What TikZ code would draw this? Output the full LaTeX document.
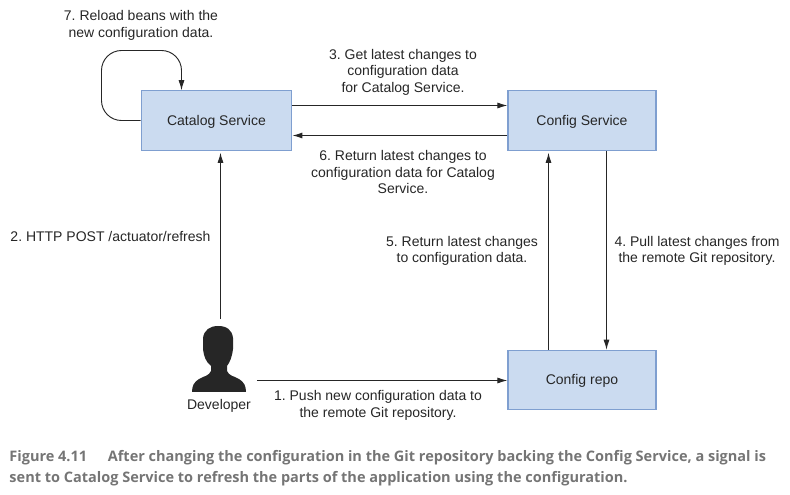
\documentclass[tikz,border=0pt]{standalone}
\usepackage{fontspec}
\setmainfont{Liberation Sans}
\newfontfamily\capfont{Open Sans}
\usetikzlibrary{arrows.meta}
\definecolor{boxfill}{HTML}{CBDBF0}
\definecolor{boxline}{HTML}{7F9FD0}
\definecolor{inkgrey}{HTML}{262626}
\definecolor{capgrey}{HTML}{757575}
\frenchspacing

\begin{document}
\begin{tikzpicture}[x = 0.75pt, y = -0.75pt, line width = 0.7pt,
                      box/.style = {rectangle, draw = boxline, fill = boxfill, line width = 0.9pt,
                                    minimum width = 111pt, minimum height = 44.5pt, text = inkgrey, text height = 7.2pt, text depth = 0pt,
                                    font = \fontsize{10.5}{12}\selectfont},
                      note/.style = {align = center, text = inkgrey, inner sep = 0pt, font = \fontsize{10.5}{12.3}\selectfont},
                      link/.style = {draw = inkgrey, -{Latex[length = 7.5pt, width = 4.5pt]}}]
    \useasboundingbox (0, 0) rectangle (790, 495);

    \node [box, minimum width = 113pt] (catalog) at (216.5, 120.5){Catalog Service};
    \node [box] (config) at (582, 120.5){Config Service};
    \node [box] (repo) at (582, 380){Config repo};
    \node [inner sep = 0pt, minimum width = 41pt, minimum height = 50pt] (dev) at (219, 359){};

    \fill [inkgrey] (192, 392) .. controls (192, 386) and (194, 382) .. (199, 379)
        .. controls (204, 376) and (209, 376) .. (211, 371) -- (211, 366)
        .. controls (206, 362) and (204, 357) .. (203, 349) -- (203, 338)
        .. controls (204, 330) and (210, 326) .. (218, 326)
        .. controls (227, 326) and (232, 330) .. (233, 338) -- (233, 349)
        .. controls (232, 357) and (230, 362) .. (227, 366) -- (227, 371)
        .. controls (229, 376) and (234, 376) .. (239, 379)
        .. controls (244, 382) and (246, 386) .. (246, 392) -- cycle;

    \coordinate (loopa) at (101.5, 120.5);
    \coordinate (loopb) at (101.5, 50.5);
    \coordinate (loopc) at (181.5, 50.5);

    \draw [link, rounded corners = 15pt] (catalog.west) -- (loopa) -- (loopb) -- (loopc) -- (catalog.north -| loopc);
    \draw [link] ([yshift = 11.25pt]catalog.east) -- ([yshift = 11.25pt]config.west);
    \draw [link] ([yshift = -11.25pt]config.west) -- ([yshift = -11.25pt]catalog.east);
    \draw [link] ([yshift = 4.5pt, xshift = 1.125pt]dev.north) -- ([yshift = -1.5pt, xshift = 1.125pt]catalog.south -| dev.north);
    \draw [link] ([xshift = 7.5pt, yshift = -16.125pt]dev.east) -- ([yshift = -0.375pt]repo.west);
    \draw [link] ([xshift = -25.125pt]repo.north) -- ([xshift = -25.125pt, yshift = -1.5pt]config.south);
    \draw [link] ([xshift = 18.375pt]config.south) -- ([xshift = 18.375pt]repo.north);

    \node [note] (step7) at (141, 25.5){7. Reload beans with the\\new configuration data.};
    \node [note] (step3) at (403, 72){3. Get latest changes to\\configuration data\\for Catalog Service.};
    \node [note] (step6) at (403, 172){6. Return latest changes to\\configuration data for Catalog\\Service.};
    \node [note, anchor = west] (step2) at (10, 236.5){2. HTTP POST /actuator/refresh};
    \node [note] (step5) at (462, 251){5. Return latest changes\\to configuration data.};
    \node [note] (step4) at (697, 251){4. Pull latest changes from\\the remote Git repository.};
    \node [note] (step1) at (378, 405.5){1. Push new configuration data to\\the remote Git repository.};
    \node [note] (devname) at (219, 405.5){Developer};

    \node [anchor = north west, align = left, inner sep = 0pt, text = capgrey,
           font = \capfont\bfseries\fontsize{10.88}{15.8}\selectfont] (caption) at (9, 450)
        {Figure 4.11\hspace{15.5pt}After changing the configuration in the Git repository backing the Config Service, a signal is\\
         sent to Catalog Service to refresh the parts of the application using the configuration.};
    \end{tikzpicture}
\end{document}
